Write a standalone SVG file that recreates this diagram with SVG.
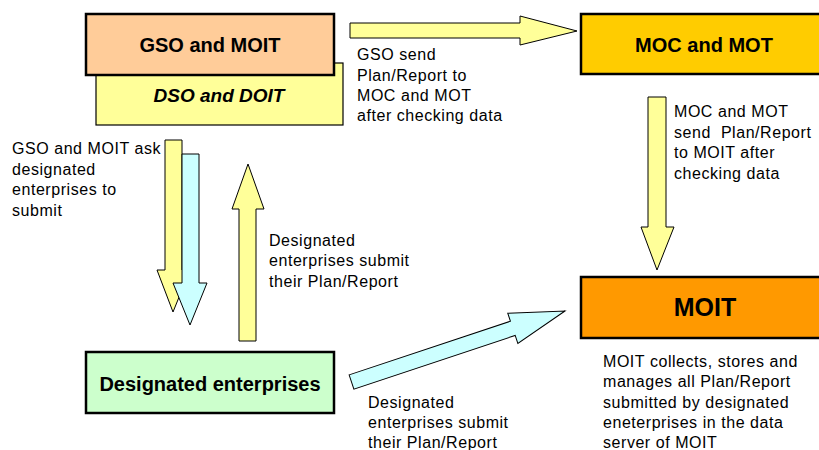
<svg xmlns="http://www.w3.org/2000/svg" width="819" height="450" viewBox="0 0 819 450">
<style>
.box{stroke:#000;stroke-width:2.5}
.title{font-family:"Liberation Sans",Arial,sans-serif;font-weight:bold;fill:#000}
.lbl{font-family:"Liberation Sans",Arial,sans-serif;font-size:16px;letter-spacing:0.55px;fill:#000}
.arr{stroke:#000;stroke-width:1;stroke-linejoin:miter}
.y{fill:#FFFF99}
.c{fill:#CCFFFF}
</style>
<rect width="819" height="450" fill="#fff"/>
<g id="dso-doit">
<rect x="96" y="63" width="247" height="62" fill="#FFFF99" stroke="#000" stroke-width="1.2"/>
<text class="title" x="219" y="102" font-size="19" font-style="italic" text-anchor="middle">DSO and DOIT</text>
</g>
<g id="gso-moit">
<rect class="box" x="86" y="14" width="248" height="61" fill="#FFCC99"/>
<text class="title" x="210" y="52" font-size="20" text-anchor="middle">GSO and MOIT</text>
</g>
<g id="moc-mot">
<rect class="box" x="581" y="14" width="245" height="60" fill="#FFCC00"/>
<text class="title" x="704" y="52" font-size="20" text-anchor="middle">MOC and MOT</text>
</g>
<g id="moit">
<rect class="box" x="581" y="277" width="245" height="61" fill="#FF9900"/>
<text class="title" x="705" y="316" font-size="25" text-anchor="middle">MOIT</text>
</g>
<g id="designated-enterprises">
<rect class="box" x="86" y="352" width="248" height="61" fill="#CCFFCC"/>
<text class="title" x="210" y="391" font-size="20" text-anchor="middle">Designated enterprises</text>
</g>
<g id="connectors">
<polygon class="arr y" points="350,23 520,23 520,16 577,31 520,45 520,38 350,38"/>
<polygon class="arr y" points="648,97 666,97 666,227 674,227 657,270 641,227 648,227"/>
<polygon class="arr y" points="165,140 182,140 182,270 190,270 173,312 157,270 165,270"/>
<polygon class="arr c" points="182,154 199,154 199,283 207,283 190,325 173,283 182,283"/>
<polygon class="arr y" points="239,341 256,341 256,209 264,209 248,164 232,209 239,209"/>
<g transform="translate(351.5,382) rotate(-18.4)">
<polygon class="arr c" points="0,-7.5 170,-7.5 170,-16 225,0 170,16 170,7.5 0,7.5"/>
</g>
</g>
<g id="labels">
<text class="lbl"><tspan x="357" y="60">GSO send</tspan><tspan x="357" y="81">Plan/Report to</tspan><tspan x="357" y="101">MOC and MOT</tspan><tspan x="357" y="121">after checking data</tspan></text>
<text class="lbl" style="white-space:pre"><tspan x="674" y="117">MOC and MOT</tspan><tspan x="674" y="138">send  Plan/Report</tspan><tspan x="674" y="158">to MOIT after</tspan><tspan x="674" y="179">checking data</tspan></text>
<text class="lbl"><tspan x="12" y="154">GSO and MOIT ask</tspan><tspan x="12" y="175">designated</tspan><tspan x="12" y="195">enterprises to</tspan><tspan x="12" y="216">submit</tspan></text>
<text class="lbl"><tspan x="269" y="246">Designated</tspan><tspan x="269" y="266">enterprises submit</tspan><tspan x="269" y="287">their Plan/Report</tspan></text>
<text class="lbl"><tspan x="368" y="408">Designated</tspan><tspan x="368" y="428">enterprises submit</tspan><tspan x="368" y="448">their Plan/Report</tspan></text>
<text class="lbl"><tspan x="603" y="367">MOIT collects, stores and</tspan><tspan x="603" y="387">manages all Plan/Report</tspan><tspan x="603" y="408">submitted by designated</tspan><tspan x="603" y="428">eneterprises in the data</tspan><tspan x="603" y="448">server of MOIT</tspan></text>
</g>
</svg>
